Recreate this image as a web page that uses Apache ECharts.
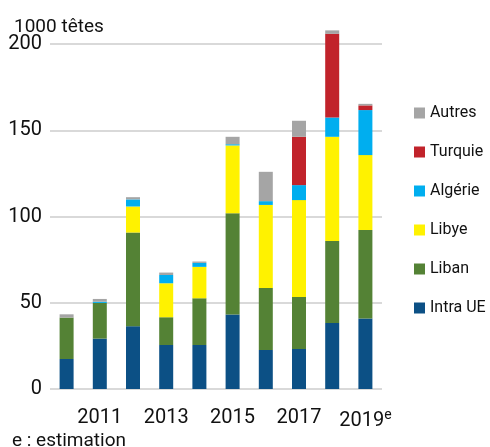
<!DOCTYPE html>
<html>
<head>
<meta charset="utf-8">
<script src="https://cdn.jsdelivr.net/npm/echarts@6/dist/echarts.min.js"></script>
<style>
  html, body { margin: 0; padding: 0; background: #fff; }
  #chart { width: 490px; height: 447px; }
</style>
</head>
<body>
<div id="chart"></div>
<script>
var years = ["2010", "2011", "2012", "2013", "2014", "2015", "2016", "2017", "2018", "2019"];
var intraUE = [17.4, 29.2, 36.4, 25.5, 25.5, 43.2, 22.6, 23.2, 38.3, 40.8];
var liban   = [24.0, 20.7, 54.3, 16.1, 27.1, 58.7, 36.0, 30.2, 47.5, 51.4];
var libye   = [0, 0, 15.1, 19.7, 18.2, 39.3, 48.1, 56.1, 60.4, 43.4];
var algerie = [0, 0.7, 4.1, 4.8, 2.3, 0.7, 2.2, 8.7, 11.2, 26.1];
var turquie = [0, 0, 0, 0, 0, 0, 0, 28.0, 48.5, 2.7];
var autres  = [1.9, 1.6, 1.3, 1.4, 0.8, 4.3, 17.0, 9.3, 2.0, 0.9];
var yTicks = [0, 50, 100, 150, 200];

var font = "Roboto, sans-serif";
var myChart = echarts.init(document.getElementById("chart"));

function serie(name, data, color) {
  return {
    name: name,
    type: "bar",
    stack: "total",
    data: data,
    barWidth: 14,
    clip: false,
    itemStyle: { color: color },
    emphasis: { disabled: true }
  };
}

var option = {
  animation: false,
  graphic: [
    {
      type: "text",
      left: 14,
      top: 18,
      style: { text: "1000 têtes", font: "19px " + font, fill: "#111" }
    },
    {
      type: "text",
      left: 12,
      top: 432,
      style: { text: "e : estimation", font: "19px " + font, fill: "#111" }
    }
  ],
  legend: {
    orient: "vertical",
    left: 409,
    top: 100,
    itemWidth: 11,
    itemHeight: 11,
    itemGap: 23,
    icon: "rect",
    textStyle: { fontSize: 16, color: "#111", fontFamily: font },
    data: ["Autres", "Turquie", "Algérie", "Libye", "Liban", "Intra UE"]
  },
  grid: { left: 50, right: 108, top: 44, bottom: 58 },
  xAxis: {
    type: "category",
    data: years,
    axisLine: { show: false },
    axisTick: { show: false },
    axisLabel: {
      interval: function (index) { return index % 2 === 1; },
      margin: 19,
      fontSize: 20,
      color: "#111",
      fontFamily: font,
      formatter: function (v) {
        return v === "2019" ? "2019{e|e}" : v;
      },
      rich: {
        e: { fontSize: 14, verticalAlign: "top", padding: [0, 0, 12, 0], fontFamily: font, color: "#111" }
      }
    }
  },
  yAxis: {
    type: "value",
    min: yTicks[0],
    max: yTicks[yTicks.length - 1],
    interval: 50,
    axisLine: { show: false },
    axisTick: { show: false },
    axisLabel: { fontSize: 20, color: "#111", fontFamily: font, margin: 8 },
    splitLine: { lineStyle: { color: "#d9d9d9", width: 2 } }
  },
  series: [
    serie("Intra UE", intraUE, "#0c5085"),
    serie("Liban", liban, "#548235"),
    serie("Libye", libye, "#fff200"),
    serie("Algérie", algerie, "#00aeef"),
    serie("Turquie", turquie, "#c1232b"),
    serie("Autres", autres, "#a5a5a5")
  ]
};

myChart.setOption(option);
</script>
</body>
</html>
